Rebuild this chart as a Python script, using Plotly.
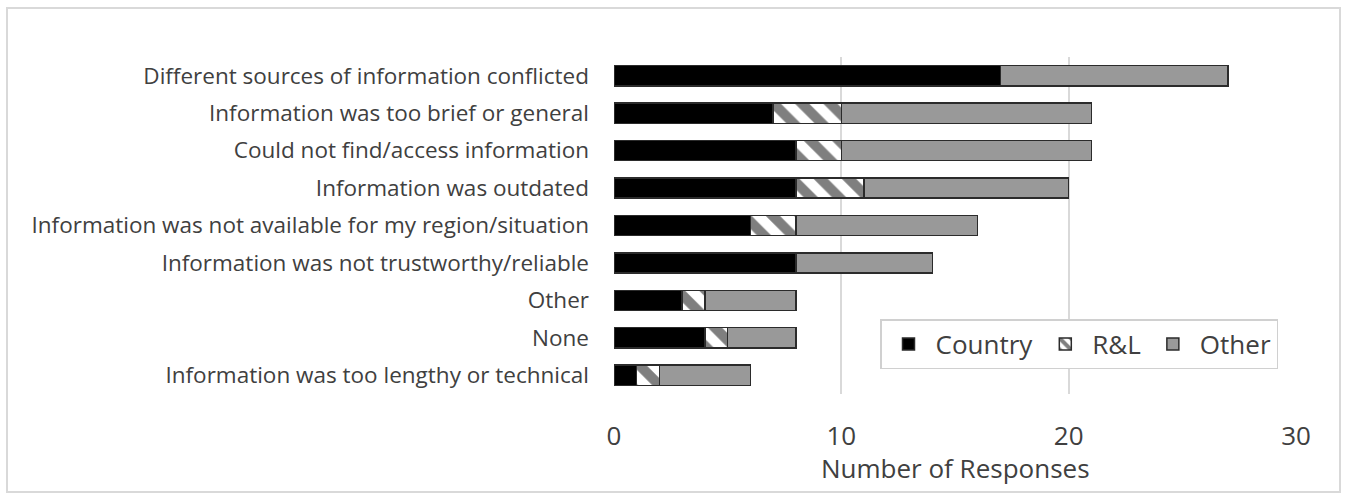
import plotly.graph_objects as go

categories = [
    "Different sources of information conflicted",
    "Information was too brief or general",
    "Could not find/access information",
    "Information was outdated",
    "Information was not available for my region/situation",
    "Information was not trustworthy/reliable",
    "Other",
    "None",
    "Information was too lengthy or technical",
]
country = [17, 7, 8, 8, 6, 8, 3, 4, 1]
rl = [0, 3, 2, 3, 2, 0, 1, 1, 1]
other = [10, 11, 11, 9, 8, 6, 4, 3, 4]
x_ticks = [0, 10, 20, 30]

W, H = 1346, 494
ml, mr, mt, mb = 614, 50, 57, 100
pw, ph = W - ml - mr, H - mt - mb

def px(x):
    return (x - ml) / pw

def py(y):
    return (H - mb - y) / ph

line = dict(color="#2b2b2b", width=1.5)
fig = go.Figure()
fig.add_trace(go.Bar(y=categories, x=country, orientation="h", name="Country",
                     marker=dict(color="black", line=line)))
fig.add_trace(go.Bar(y=categories, x=rl, orientation="h", name="R&L",
                     marker=dict(color="white", line=line,
                                 pattern=dict(shape="\\", fgcolor="black", bgcolor="white",
                                              size=20, solidity=0.5))))
fig.add_trace(go.Bar(y=categories, x=other, orientation="h", name="Other",
                     marker=dict(color="#999999", line=line)))

fig.update_layout(
    barmode="stack",
    bargap=0.46,
    width=W, height=H,
    margin=dict(l=ml, r=mr, t=mt, b=mb, autoexpand=False),
    paper_bgcolor="white", plot_bgcolor="white",
    font=dict(family="Open Sans", color="#404040"),
    showlegend=True,
    legend=dict(orientation="h", x=px(880), y=py(319), xanchor="left", yanchor="top",
                bgcolor="white", bordercolor="#d0d0d0", borderwidth=1.5,
                font=dict(size=26, color="#404040"), traceorder="normal",
                itemwidth=44, tracegroupgap=0),
    xaxis=dict(range=[0, 30], tickvals=x_ticks, showgrid=True, gridcolor="#d9d9d9",
               gridwidth=1.5, zeroline=False, showline=False,
               tickfont=dict(size=26, color="#404040"), ticks="", ticklabelstandoff=24),
    yaxis=dict(categoryorder="array", categoryarray=categories, autorange="reversed",
               showgrid=False, zeroline=False, showline=False, ticks="",
               tickfont=dict(size=22.5, color="#404040"), ticklabelstandoff=24),
    annotations=[dict(text="Number of Responses", xref="paper", yref="paper",
                      x=0.5, y=py(468), xanchor="center", yanchor="middle",
                      showarrow=False, font=dict(size=26, color="#404040"))],
    shapes=[dict(type="rect", xref="paper", yref="paper",
                 x0=px(7), x1=px(1340), y0=py(492), y1=py(8),
                 line=dict(color="#d9d9d9", width=2), fillcolor="rgba(0,0,0,0)", layer="below")],
)

fig.write_html("out.html", config={"displayModeBar": False},
               post_script="document.body.style.margin='0';document.body.style.padding='0';")
